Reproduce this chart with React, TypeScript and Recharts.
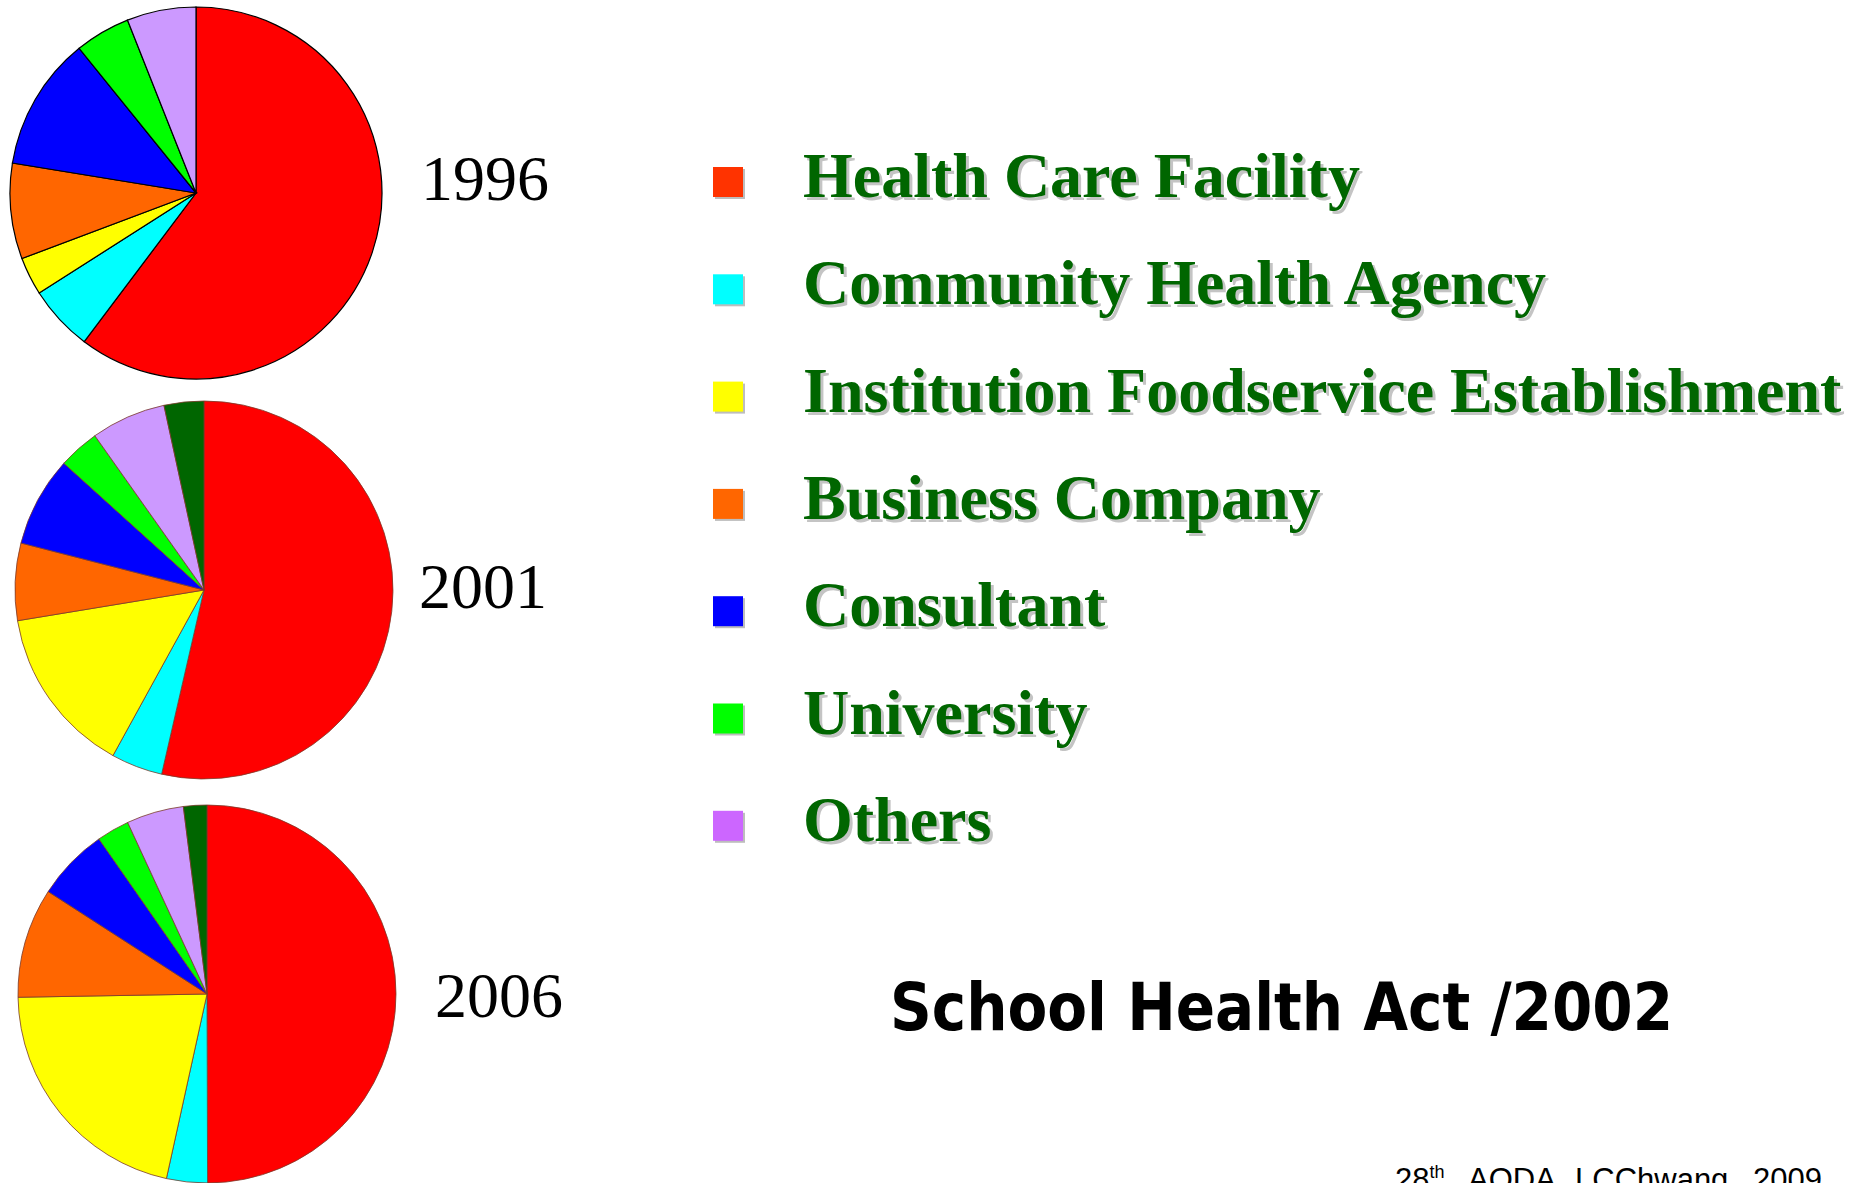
import React from 'react';
import { PieChart, Pie, Cell } from 'recharts';

// categories shown in the legend (pies 2001/2006 also carry an unlabeled dark green slice)
const categories = [
  'Health Care Facility',
  'Community Health Agency',
  'Institution Foodservice Establishment',
  'Business Company',
  'Consultant',
  'University',
  'Others',
];
const extraCategory = 'Other (unlabeled)';

const sliceColors = ['#FF0000', '#00FFFF', '#FFFF00', '#FF6600', '#0000FF', '#00FF00', '#CC99FF', '#006600'];
const legendColors = ['#FF3300', '#00FFFF', '#FFFF00', '#FF6600', '#0000FF', '#00FF00', '#CC66FF'];

// shares in percent (clockwise from 12 o'clock)
const values1996 = [60.2, 5.7, 3.3, 8.3, 11.6, 4.8, 6.0];
const values2001 = [53.6, 4.4, 14.4, 6.6, 7.7, 3.5, 6.4, 3.4];
const values2006 = [50.0, 3.5, 21.3, 9.4, 6.2, 2.8, 4.9, 2.0];

const years = ['1996', '2001', '2006'];
const title = 'School Health Act /2002';

const toData = (values: number[]) =>
  values.map((value, i) => ({
    name: i < categories.length ? categories[i] : extraCategory,
    value,
    color: sliceColors[i],
  }));

const data1996 = toData(values1996);
const data2001 = toData(values2001);
const data2006 = toData(values2006);

const W = 1861;
const H = 1183;

const App: React.FC = () => {
  const pies = [
    { data: data1996, cx: 196, cy: 193, r: 186, stroke: '#000000', sw: 1.2 },
    { data: data2001, cx: 204, cy: 590, r: 189, stroke: '#7a3a2a', sw: 0.8 },
    { data: data2006, cx: 207, cy: 994, r: 189, stroke: '#7a3a2a', sw: 0.8 },
  ];
  const yearPos = [
    { x: 421, y: 200 },
    { x: 419, y: 608 },
    { x: 435, y: 1017 },
  ];

  return (
    <div style={{ position: 'absolute', left: 0, top: 0, width: W, height: H, background: '#fff', overflow: 'hidden' }}>
      <div style={{ position: 'absolute', left: 0, top: 0 }}>
        <PieChart width={W} height={H} margin={{ top: 0, right: 0, bottom: 0, left: 0 }}>
          {pies.map((p, idx) => (
            <Pie
              key={`pie-${idx}`}
              data={p.data}
              dataKey="value"
              nameKey="name"
              cx={p.cx}
              cy={p.cy}
              outerRadius={p.r}
              startAngle={90}
              endAngle={-270}
              labelLine={false}
              isAnimationActive={false}
            >
              {p.data.map((entry) => (
                <Cell key={`cell-${idx}-${entry.name}`} fill={entry.color} stroke={p.stroke} strokeWidth={p.sw} />
              ))}
            </Pie>
          ))}
        </PieChart>
      </div>
      <svg width={W} height={H} style={{ position: 'absolute', left: 0, top: 0, pointerEvents: 'none' }}>
        {years.map((y, i) => (
          <text key={y} x={yearPos[i].x} y={yearPos[i].y} fontFamily="'Liberation Serif', serif" fontSize={64} fill="#000">
            {y}
          </text>
        ))}

        {categories.map((c, i) => {
          const cy = 182 + i * 107.3;
          return (
            <g key={c}>
              <rect x={715} y={cy - 13} width={30} height={30} fill="#BDBDBD" />
              <rect x={713} y={cy - 15} width={30} height={30} fill={legendColors[i]} />
              <text x={806} y={cy + 18} fontFamily="'Liberation Serif', serif" fontWeight="bold" fontSize={64} fill="#C4C4C4">
                {c}
              </text>
              <text x={803} y={cy + 15} fontFamily="'Liberation Serif', serif" fontWeight="bold" fontSize={64} fill="#006600">
                {c}
              </text>
            </g>
          );
        })}

        <text
          x={890}
          y={1030}
          fontFamily="'DejaVu Sans', sans-serif"
          fontWeight="bold"
          fontSize={66}
          textLength={783}
          lengthAdjust="spacingAndGlyphs"
          fill="#000"
        >
          {title}
        </text>

        <text y={1190} fontFamily="'Liberation Sans', Arial, sans-serif" fontSize={31} fill="#000">
          <tspan x={1395}>28</tspan>
          <tspan fontSize={18} dy={-12}>th</tspan>
          <tspan x={1468} dy={12}>AODA</tspan>
          <tspan x={1575}>LCChwang</tspan>
          <tspan x={1753}>2009</tspan>
        </text>
      </svg>
    </div>
  );
};

export default App;
